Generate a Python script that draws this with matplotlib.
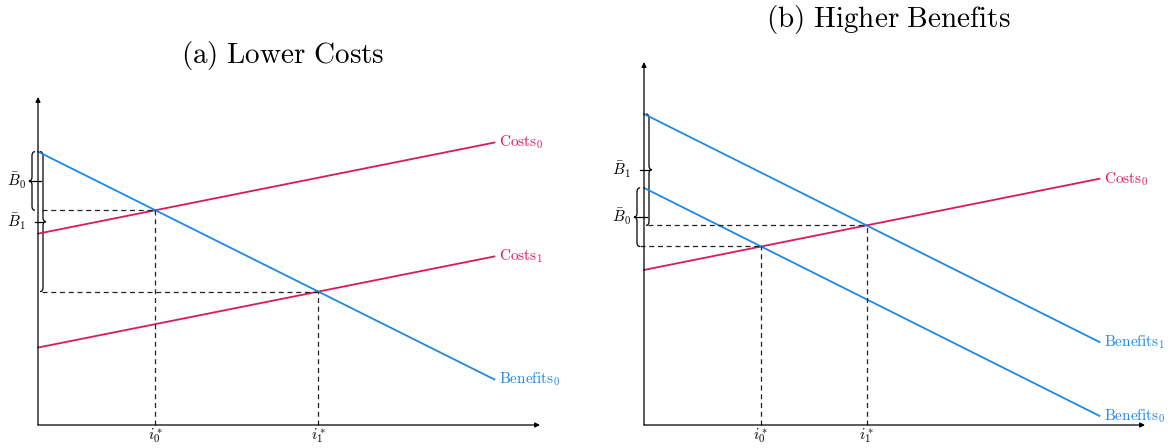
import numpy as np
import matplotlib.pyplot as plt
from matplotlib.path import Path
from matplotlib.patches import PathPatch

plt.rcParams['mathtext.fontset'] = 'cm'
plt.rcParams['font.family'] = 'DejaVu Serif'

RED = '#D81B60'
BLUE = '#1E88E5'

# line intercepts / slopes, x runs 0..10
x_end = 10.0
a_benefits0 = (6.0, -0.5)
a_costs0 = (4.2, 0.2)
a_costs1 = (1.7, 0.2)

b_benefits0 = (5.2, -0.5)
b_benefits1 = (6.82, -0.5)
b_costs0 = (3.4, 0.2)

PX = 1 / 45.6  # one pixel in data units


def val(line, x):
    return line[0] + line[1] * x


def cross(b, c):
    x = (c[0] - b[0]) / (b[1] - c[1])
    return x, val(b, x)


def brace(ax, x, y0, y1, w, r=0.085, lw=0.9):
    ym = (y0 + y1) / 2
    s = x + w / 2
    verts = [(x, y1), (s, y1), (s, y1 - r), (s, ym + r), (s, ym), (x + w, ym),
             (s, ym), (s, ym - r), (s, y0 + r), (s, y0), (x, y0)]
    codes = [Path.MOVETO, Path.CURVE3, Path.CURVE3, Path.LINETO, Path.CURVE3, Path.CURVE3,
             Path.CURVE3, Path.CURVE3, Path.LINETO, Path.CURVE3, Path.CURVE3]
    ax.add_patch(PathPatch(Path(verts, codes), fill=False, lw=lw, color='black', clip_on=False))


def setup(ax, xmax, ymax):
    ax.set_xlim(0, xmax)
    ax.set_ylim(0, ymax)
    ax.axis('off')
    arrow = dict(arrowstyle='-|>', lw=0.9, color='black', mutation_scale=7, shrinkA=0, shrinkB=0)
    ax.annotate('', xy=(xmax, 0), xytext=(0, 0), arrowprops=arrow)
    ax.annotate('', xy=(0, ymax), xytext=(0, 0), arrowprops=arrow)


def draw_line(ax, line, color, label):
    xs = np.array([0, x_end])
    ax.plot(xs, val(line, xs), color=color, lw=1.3, clip_on=False)
    ax.text(x_end + 5 * PX, val(line, x_end), label, color=color, fontsize=11,
            ha='left', va='center')


def guide(ax, x, y, x0):
    kw = dict(color='#222222', lw=0.9, ls=(0, (4, 3)), clip_on=False)
    ax.plot([x0, x], [y, y], **kw)
    ax.plot([x, x], [0, y], **kw)


def tick_label(ax, x, text):
    ax.text(x, -11 * PX, text, fontsize=11, ha='center', va='center')


W, H = 1173, 448
fig = plt.figure(figsize=(W / 100, H / 100), dpi=100)

# (a) lower costs
ax1 = fig.add_axes([38 / W, (H - 425) / H, 502 / W, 328 / H])
setup(ax1, 11.0, 7.2)
draw_line(ax1, a_costs0, RED, r'$\mathrm{Costs}_0$')
draw_line(ax1, a_costs1, RED, r'$\mathrm{Costs}_1$')
draw_line(ax1, a_benefits0, BLUE, r'$\mathrm{Benefits}_0$')
x0, y0 = cross(a_benefits0, a_costs0)
x1, y1 = cross(a_benefits0, a_costs1)
guide(ax1, x0, y0, 4 * PX)
guide(ax1, x1, y1, 4 * PX)
tick_label(ax1, x0, r'$i_0^*$')
tick_label(ax1, x1, r'$i_1^*$')
top = a_benefits0[0]
brace(ax1, -3 * PX, y0, top, -6 * PX)
ax1.plot([-9 * PX, 3 * PX], [(y0 + top) / 2] * 2, color='black', lw=0.9, clip_on=False)
brace(ax1, 2 * PX, y1, top, 6 * PX)
ax1.plot([-3 * PX, 5 * PX], [(y1 + top) / 2] * 2, color='black', lw=0.9, clip_on=False)
ax1.text(-12 * PX, (y0 + top) / 2, r'$\bar{B}_0$', fontsize=11, ha='right', va='center')
ax1.text(-12 * PX, (y1 + top) / 2, r'$\bar{B}_1$', fontsize=11, ha='right', va='center')

# (b) higher benefits
ax2 = fig.add_axes([644 / W, (H - 425) / H, 501 / W, 363 / H])
setup(ax2, 11.0, 7.96)
draw_line(ax2, b_costs0, RED, r'$\mathrm{Costs}_0$')
draw_line(ax2, b_benefits1, BLUE, r'$\mathrm{Benefits}_1$')
draw_line(ax2, b_benefits0, BLUE, r'$\mathrm{Benefits}_0$')
x0, y0 = cross(b_benefits0, b_costs0)
x1, y1 = cross(b_benefits1, b_costs0)
guide(ax2, x0, y0, -4 * PX)
guide(ax2, x1, y1, 4 * PX)
tick_label(ax2, x0, r'$i_0^*$')
tick_label(ax2, x1, r'$i_1^*$')
t0, t1 = b_benefits0[0], b_benefits1[0]
brace(ax2, -4 * PX, y0, t0, -6 * PX)
ax2.plot([-10 * PX, 3 * PX], [(y0 + t0) / 2] * 2, color='black', lw=0.9, clip_on=False)
brace(ax2, 2 * PX, y1, t1, 6 * PX)
ax2.plot([-4 * PX, 5 * PX], [(y1 + t1) / 2] * 2, color='black', lw=0.9, clip_on=False)
ax2.text(-13 * PX, (y0 + t0) / 2, r'$\bar{B}_0$', fontsize=11, ha='right', va='center')
ax2.text(-13 * PX, (y1 + t1) / 2, r'$\bar{B}_1$', fontsize=11, ha='right', va='center')

fig.text(283 / W, 1 - 55 / H, r'$\mathrm{(a)\ Lower\ Costs}$', fontsize=21, ha='center', va='center')
fig.text(888 / W, 1 - 20 / H, r'$\mathrm{(b)\ Higher\ Benefits}$', fontsize=21, ha='center', va='center')

fig.savefig('out.png', dpi=100)
